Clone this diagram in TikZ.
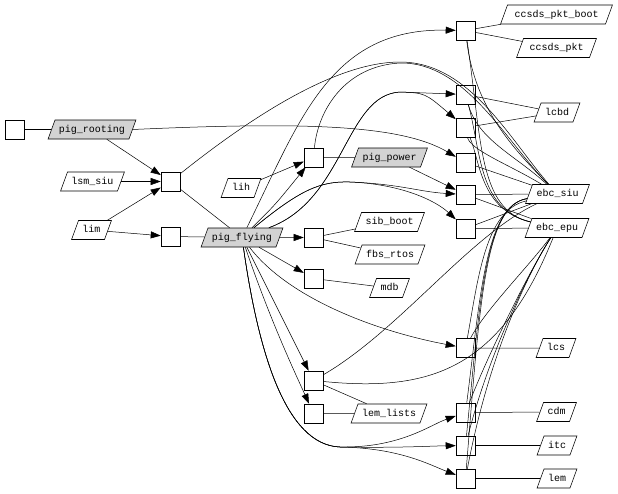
\documentclass[tikz,border=0pt]{standalone}
\usepackage{fontspec}
\newfontfamily\graphfont{Liberation Mono}
\usetikzlibrary{shapes.geometric,arrows.meta}
\definecolor{shade}{HTML}{D3D3D3}
\begin{document}
\begin{tikzpicture}[x=1pt,y=-1pt,
  every node/.style={font=\graphfont\fontsize{10}{12}\selectfont},
  junction/.style={draw,line width=0.55pt,minimum size=19pt,inner sep=0pt},
  unit/.style={draw,line width=0.55pt,trapezium,trapezium left angle=70,
    trapezium right angle=110,inner xsep=4pt,inner ysep=5pt,
    text height=7pt,text depth=2pt},
  shared/.style={unit,fill=shade},
  link/.style={line width=0.5pt},
  uses/.style={link,-{Triangle[length=10pt,width=7pt]}}]
  \useasboundingbox (0,0) rectangle (618,493);
  % Left part
  \node[junction] (start) at (14.5,129.5) {};
  \node[shared] (rooting) at (92,129.5) {pig\_rooting};
  \node[unit] (lsmsiu) at (92.5,181.5) {lsm\_siu};
  \node[unit] (lim) at (91.5,230) {lim};
  \node[junction] (j1) at (170.5,181.5) {};
  \node[junction] (j2) at (170.5,236.5) {};
  \node[unit] (lih) at (241,188) {lih};
  \node[shared] (flying) at (242,237.5) {pig\_flying};
  % Middle column
  \node[junction] (j3) at (313.5,157.5) {};
  \node[junction] (j4) at (313.5,237.5) {};
  \node[junction] (j5) at (313.5,278.5) {};
  \node[junction] (j6) at (313.5,380.5) {};
  \node[junction] (j7) at (313.5,413.5) {};
  \node[shared] (power) at (389.5,157.5) {pig\_power};
  \node[unit] (sibboot) at (389.5,222) {sib\_boot};
  \node[unit] (fbsrtos) at (390,254.5) {fbs\_rtos};
  \node[unit] (mdb) at (389.5,288) {mdb};
  \node[unit] (lemlists) at (389,413.5) {lem\_lists};
  % Right column
  \foreach \n/\ypos in {1/30.5,2/94.5,3/127.5,4/162.5,5/194.5,
      6/228.5,7/348,8/412.5,9/445.5,10/478.5}
    \node[junction] (k\n) at (465.5,\ypos) {};
  \node[unit,inner xsep=7pt] (pktboot) at (556.5,14.5) {ccsds\_pkt\_boot};
  \node[unit,inner xsep=6pt] (pkt) at (556.5,48) {ccsds\_pkt};
  \node[unit] (lcbd) at (557,112.5) {lcbd};
  \node[unit] (ebcsiu) at (557.5,194) {ebc\_siu};
  \node[unit] (ebcepu) at (557,228) {ebc\_epu};
  \node[unit] (lcs) at (556,348) {lcs};
  \node[unit] (cdm) at (556.5,412) {cdm};
  \node[unit] (itc) at (557,445.5) {itc};
  \node[unit] (lem) at (557,478.5) {lem};

  % Edges on the left
  \draw[link] (start) -- (rooting);
  \draw[uses] (rooting) -- (j1);
  \draw[uses] (lsmsiu) -- (j1);
  \draw[uses] (lim) -- (j1);
  \draw[uses] (lim) -- (j2);
  \draw[link] (j1) -- (flying);
  \draw[link] (j2) -- (flying);
  \draw[uses] (lih) -- (j3);
  \draw[uses] (flying) .. controls (275,205) .. (j3);
  \draw[link] (j3) -- (power);
  \draw[link] (j1) .. controls (260,110) and (340,62) .. (400,62)
    .. controls (470,62) and (510,140) .. (ebcsiu);
  \draw[link] (j3) .. controls (318,110) and (345,66) .. (400,63)
    .. controls (465,62) and (505,140) .. (ebcsiu);
  % pig_flying fans out
  \draw[uses] (flying) .. controls (300,120) and (330,28) .. (k1);
  \draw[uses] (flying) .. controls (345,200) and (345,95) .. (400,92) -- (k2);
  \draw[uses] (flying) .. controls (345,200) and (345,95) .. (400,92)
    .. controls (425,93) .. (k3);
  \draw[uses] (rooting.east) .. controls (300,122) and (400,124) .. (k4);
  \draw[uses] (power) -- (k5);
  \draw[uses] (flying) .. controls (300,190) and (320,181) .. (350,182)
    .. controls (400,184) and (420,192) .. (k5);
  \draw[uses] (flying) .. controls (300,190) and (320,181) .. (350,182)
    .. controls (400,184) and (435,200) .. (k6);
  \draw[uses] (flying) -- (j4);
  \draw[uses] (flying) -- (j5);
  \draw[uses] (flying) .. controls (290,300) and (380,332) .. (k7);
  \draw[uses] (flying) -- (j6);
  \draw[uses] (flying) .. controls (270,320) and (296,375) .. (j7);
  \foreach \k/\b in {k8/425,k9/446,k10/465}
    \draw[uses] (flying) .. controls (258,350) and (285,445) .. (340,447)
      .. controls (400,448) and (430,\b) .. (\k);
  % Middle links
  \draw[link] (j4) -- (sibboot);
  \draw[link] (j4) -- (fbsrtos);
  \draw[link] (j5) -- (mdb);
  \draw[link] (j6) -- (lemlists);
  \draw[link] (j7) -- (lemlists);
  \draw[link] (j6) .. controls (400,330) and (470,235) .. (ebcsiu);
  \draw[link] (j6) .. controls (430,392) and (500,370) .. (ebcepu);
  % Right links
  \draw[link] (k1) -- (pktboot);
  \draw[link] (k1) -- (pkt);
  \draw[link] (k2) -- (lcbd);
  \draw[link] (k3) -- (lcbd);
  \draw[link] (k7) -- (lcs);
  \draw[link] (k8) -- (cdm);
  \draw[link] (k9) -- (itc);
  \draw[link] (k10) -- (lem);
  \draw[link] (k1) .. controls (475,110) and (515,150) .. (ebcsiu);
  \draw[link] (k2) .. controls (478,140) and (515,155) .. (ebcsiu);
  \draw[link] (k3) .. controls (470,150) and (510,165) .. (ebcsiu);
  \draw[link] (k1) .. controls (482,140) and (478,210) .. (ebcepu);
  \draw[link] (k2) .. controls (481,150) and (478,210) .. (ebcepu);
  \draw[link] (k3) .. controls (480,160) and (480,210) .. (ebcepu);
  \draw[link] (k4) -- (ebcsiu);
  \draw[link] (k5) -- (ebcsiu);
  \draw[link] (k6) -- (ebcsiu);
  \draw[link] (k5) -- (ebcepu);
  \draw[link] (k6) -- (ebcepu);
  \draw[link] (k7) .. controls (478,280) and (485,210) .. (ebcsiu);
  \draw[link] (k7) .. controls (485,310) and (530,265) .. (ebcepu);
  \foreach \k in {k8,k9,k10} {
    \draw[link] (\k) .. controls (480,300) and (485,205) .. (ebcsiu);
    \draw[link] (\k) .. controls (490,350) and (530,270) .. (ebcepu);
  }
\end{tikzpicture}
\end{document}
